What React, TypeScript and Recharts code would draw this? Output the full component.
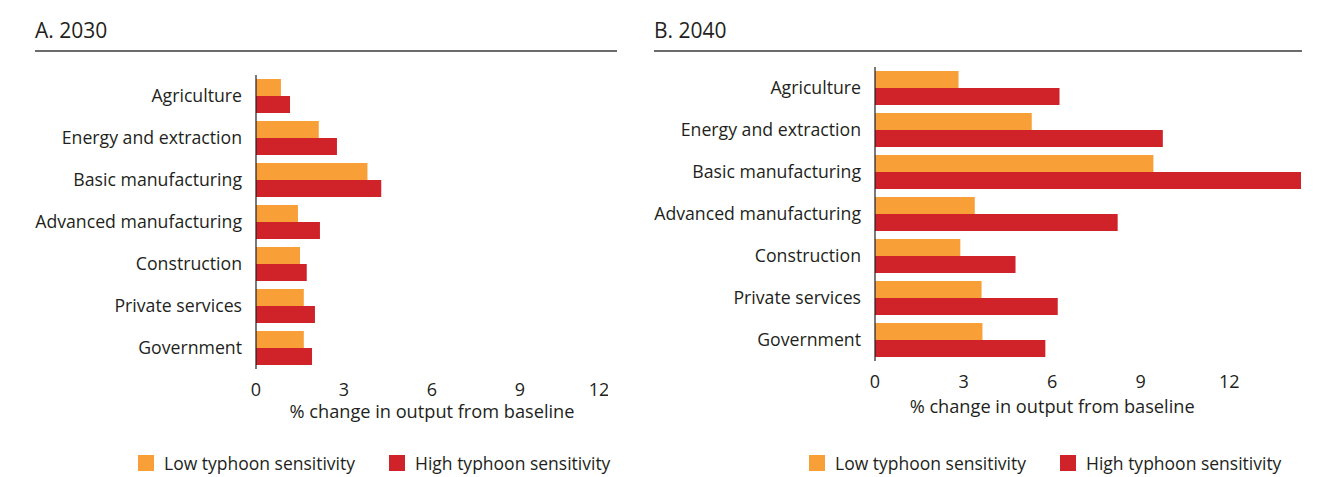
import React from 'react';
import { BarChart, Bar, XAxis, YAxis, Legend } from 'recharts';

const sectors = [
  'Agriculture',
  'Energy and extraction',
  'Basic manufacturing',
  'Advanced manufacturing',
  'Construction',
  'Private services',
  'Government',
];
const low2030 = [0.85, 2.14, 3.8, 1.43, 1.5, 1.63, 1.63];
const high2030 = [1.16, 2.76, 4.27, 2.18, 1.73, 2.01, 1.91];
const low2040 = [2.83, 5.31, 9.43, 3.38, 2.89, 3.61, 3.64];
const high2040 = [6.25, 9.75, 14.43, 8.22, 4.76, 6.19, 5.77];
const xTicks = [0, 3, 6, 9, 12];
const seriesNames = ['Low typhoon sensitivity', 'High typhoon sensitivity'];

const ORANGE = '#F8A037';
const RED = '#CF2229';
const INK = '#231F20';
const FONT = '"Open Sans", sans-serif';

const buildRows = (low: number[], high: number[]) =>
  sectors.map((sector, i) => ({ sector, low: low[i], high: high[i] }));

const data2030 = buildRows(low2030, high2030);
const data2040 = buildRows(low2040, high2040);

const LegendBox = () => (
  <div style={{ display: 'flex', alignItems: 'center', whiteSpace: 'nowrap', fontFamily: FONT, fontSize: 17.5, color: INK }}>
    {seriesNames.map((name, i) => (
      <div key={name} style={{ display: 'flex', alignItems: 'center', flexShrink: 0, marginRight: i === 0 ? 34 : 0 }}>
        <span style={{ width: 16, height: 16, background: i === 0 ? ORANGE : RED, display: 'inline-block', marginRight: 10 }} />
        <span>{name}</span>
      </div>
    ))}
  </div>
);

type PanelProps = {
  title: string;
  data: { sector: string; low: number; high: number }[];
  left: number;
  width: number;
  yAxisWidth: number;
  top: number;
  domainMax: number | 'dataMax';
  legendLeft: number;
  labelGap: number;
  ruleLeft: number;
  ruleWidth: number;
};

const Panel: React.FC<PanelProps> = ({
  title, data, left, width, yAxisWidth, top, domainMax, legendLeft, labelGap, ruleLeft, ruleWidth,
}) => {
  const maxVal = domainMax === 'dataMax' ? Math.max(...data.map((d) => Math.max(d.low, d.high))) : domainMax;
  const plotBottom = top + 294;
  const axisH = 50;
  return (
    <div style={{ position: 'absolute', left, top: 0, width, height: 477 }}>
      <div style={{ position: 'absolute', left: ruleLeft - left, top: 16, fontFamily: FONT, fontSize: 21, color: INK }}>
        {title}
      </div>
      <div style={{ position: 'absolute', left: ruleLeft - left, top: 50, width: ruleWidth, height: 2, background: '#6b6b6b' }} />
      <BarChart
        width={width}
        height={477}
        data={data}
        layout="vertical"
        barGap={0}
        barSize={17}
        margin={{ top, right: 0, left: 0, bottom: 477 - plotBottom - axisH }}
        style={{ position: 'absolute', left: 0, top: 0 }}
      >
        <XAxis
          type="number"
          domain={[0, maxVal]}
          ticks={xTicks}
          height={axisH}
          axisLine={false}
          tickLine={false}
          tickSize={0}
          tickMargin={14}
          tick={{ fontSize: 18, fill: INK, fontFamily: FONT }}
          label={{
            value: '% change in output from baseline',
            content: (props: any) => {
              const vb = props.viewBox || {};
              const cx = vb.x + (vb.width * (12 / maxVal)) / 2;
              return (
                <text
                  x={cx}
                  y={vb.y + labelGap}
                  textAnchor="middle"
                  dominantBaseline="central"
                  fill={INK}
                  fontSize={18.2}
                  fontFamily={FONT}
                >
                  % change in output from baseline
                </text>
              );
            },
          }}
        />
        <YAxis
          type="category"
          dataKey="sector"
          width={yAxisWidth}
          axisLine={{ stroke: INK, strokeWidth: 1.2 }}
          tickLine={false}
          tickSize={0}
          tickMargin={14}
          tick={{ fontSize: 17.7, fill: INK, fontFamily: FONT }}
          interval={0}
        />
        <Bar dataKey="low" name={seriesNames[0]} fill={ORANGE} isAnimationActive={false} />
        <Bar dataKey="high" name={seriesNames[1]} fill={RED} isAnimationActive={false} />
        <Legend
          layout="horizontal"
          verticalAlign="middle"
          align="center"
          content={() => <LegendBox />}
          wrapperStyle={{ left: legendLeft, top: 451, width: 500, height: 20 }}
        />
      </BarChart>
    </div>
  );
};

const App: React.FC = () => (
  <div style={{ position: 'absolute', left: 0, top: 0, width: 1331, height: 477, background: '#fff' }}>
    <Panel
      title="A. 2030"
      data={data2030}
      left={0}
      width={608}
      yAxisWidth={256}
      top={75}
      domainMax={12}
      legendLeft={138}
      labelGap={42}
      ruleLeft={35}
      ruleWidth={582}
    />
    <Panel
      title="B. 2040"
      data={data2040}
      left={640}
      width={661}
      yAxisWidth={235}
      top={67}
      domainMax="dataMax"
      legendLeft={169}
      labelGap={45}
      ruleLeft={654}
      ruleWidth={648}
    />
  </div>
);

export default App;
